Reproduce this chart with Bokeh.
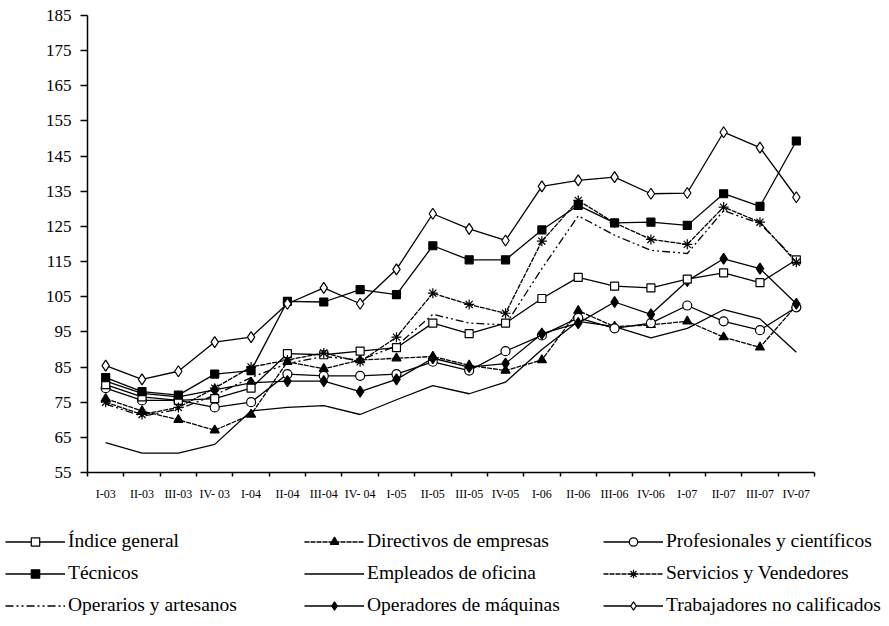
from bokeh.plotting import figure
from bokeh.models import Range1d, FixedTicker, Legend, LegendItem
from bokeh.embed import file_html
from bokeh.resources import INLINE

categories = ["I-03", "II-03", "III-03", "IV- 03", "I-04", "II-04", "III-04", "IV- 04",
              "I-05", "II-05", "III-05", "IV-05", "I-06", "II-06", "III-06", "IV-06",
              "I-07", "II-07", "III-07", "IV-07"]

indice = [80, 76.5, 75.5, 76, 79, 88.8, 88.5, 89.5, 90.5, 97.5, 94.5, 97.5, 104.5, 110.5, 108, 107.5, 110, 111.8, 109, 115.5]
directivos = [76, 72.5, 70, 67, 71.5, 86.5, 84.5, 87, 87.5, 88, 85.5, 84, 87, 101, 96.5, 97, 98, 93.5, 90.6, 102.5]
profesionales = [79, 75.5, 75.5, 73.5, 75, 83, 82.5, 82.5, 83, 86.5, 84, 89.5, 94, 99, 96, 97.5, 102.5, 98, 95.5, 102]
tecnicos = [82, 78, 77, 83, 84, 103.7, 103.5, 107, 105.6, 119.5, 115.5, 115.5, 124, 131, 126, 126.2, 125.3, 134.3, 130.7, 149.3]
empleados = [63.5, 60.5, 60.5, 63, 72.5, 73.5, 74, 71.5, 75.7, 79.7, 77.4, 80.7, 90, 98, 96.5, 93.3, 96, 101.3, 98.7, 89.2]
servicios = [75, 71.5, 73.5, 79, 85, 87, 89, 86.5, 93.5, 106, 102.8, 100.3, 120.8, 132.4, 126, 121.3, 119.9, 130.5, 126.2, 114.8]
operarios = [74.5, 71, 73, 77, 82, 86, 88, 87, 91, 100, 97.5, 97, 113, 128, 122.5, 118.2, 117.3, 129.5, 125.8, 115.3]
operadores = [81, 77.5, 76.5, 78.5, 80.5, 81, 81, 78, 81.5, 87.5, 85, 86, 94.5, 97.5, 103.5, 100, 109.5, 115.8, 113, 103]
trabajadores = [85.4, 81.5, 83.8, 92.1, 93.5, 103, 107.5, 103, 112.8, 128.6, 124.3, 121, 136.4, 138.1, 139, 134.3, 134.5, 151.8, 147.4, 133.3]

y_ticks = list(range(55, 186, 10))

FONT = "Liberation Serif"

n = len(categories)
xs = [i + 0.5 for i in range(n)]

W = 889
H_MAIN = 505
H_LEG = 121

p = figure(width=W, height=H_MAIN, output_backend="svg", toolbar_location=None,
           x_range=Range1d(0, n), y_range=Range1d(55, 185),
           min_border_left=87, min_border_right=75, min_border_top=15, min_border_bottom=33)
p.outline_line_color = None
p.xgrid.visible = False
p.ygrid.visible = False

# axes
xa = p.xaxis[0]
xa.ticker = FixedTicker(ticks=xs, minor_ticks=list(range(n + 1)))
xa.major_label_overrides = {x: c for x, c in zip(xs, categories)}
xa.major_tick_out = 0
xa.major_tick_in = 0
xa.minor_tick_out = 4
xa.minor_tick_in = 0
xa.minor_tick_line_width = 1.5
xa.axis_line_width = 1.5
xa.axis_line_color = "black"
xa.minor_tick_line_color = "black"
xa.major_label_standoff = 10
xa.major_label_text_font = FONT
xa.major_label_text_font_size = "12px"
xa.major_label_text_color = "black"

ya = p.yaxis[0]
ya.ticker = FixedTicker(ticks=y_ticks, minor_ticks=[])
ya.major_tick_out = 7
ya.major_tick_in = 0
ya.major_tick_line_width = 1.5
ya.axis_line_width = 1.5
ya.axis_line_color = "black"
ya.major_tick_line_color = "black"
ya.major_label_standoff = 9
ya.major_label_text_font = FONT
ya.major_label_text_font_size = "17px"
ya.major_label_text_color = "black"

# legend figure: same series drawn out of its visible range, used only for swatches
lg = figure(width=W, height=H_LEG, output_backend="svg", toolbar_location=None,
            x_range=Range1d(0, 1), y_range=Range1d(0, 1),
            min_border=0, min_border_left=0, min_border_right=0,
            min_border_top=0, min_border_bottom=0)
lg.axis.visible = False
lg.grid.visible = False
lg.outline_line_color = None

LW = 1.3

def series(label, ys, marker=None, fill="black", size=8, dash="solid"):
    p.line(xs, ys, line_color="black", line_width=LW, line_dash=dash)
    if marker is not None:
        p.scatter(xs, ys, marker=marker, size=size, line_color="black",
                  fill_color=fill, line_width=1.2)
    rs = [lg.line(xs, ys, line_color="black", line_width=LW, line_dash=dash)]
    if marker is not None:
        rs.append(lg.scatter(xs, ys, marker=marker, size=size, line_color="black",
                             fill_color=fill, line_width=1.2))
    return LegendItem(label=label, renderers=rs)

it_emp = series("Empleados de oficina", empleados)
it_ope = series("Operarios y artesanos", operarios, dash="8 3 2 3 2 3")
it_dir = series("Directivos de empresas", directivos, "triangle", "black", 9, dash="5 1")
it_pro = series("Profesionales y científicos", profesionales, "circle", "white", 9)
it_opm = series("Operadores de máquinas", operadores, "diamond", "black", 11)
it_ind = series("Índice general", indice, "square", "white", 8)
it_ser = series("Servicios y Vendedores", servicios, "asterisk", "black", 10, dash="5 1")
it_tec = series("Técnicos", tecnicos, "square", "black", 8)
it_tra = series("Trabajadores no calificados", trabajadores, "diamond", "white", 11)

legend = Legend(items=[it_ind, it_dir, it_pro,
                       it_tec, it_emp, it_ser,
                       it_ope, it_opm, it_tra],
                orientation="horizontal", ncols=3, location=(5, 10),
                glyph_width=60, glyph_height=21, label_standoff=3,
                label_width=226, label_height=21, spacing=10,
                padding=0, margin=0, border_line_color=None,
                background_fill_alpha=0,
                label_text_font=FONT, label_text_font_size="19.5px",
                label_text_color="black")
lg.add_layout(legend, "center")

open("out.html", "w").write(file_html([p, lg], INLINE))
